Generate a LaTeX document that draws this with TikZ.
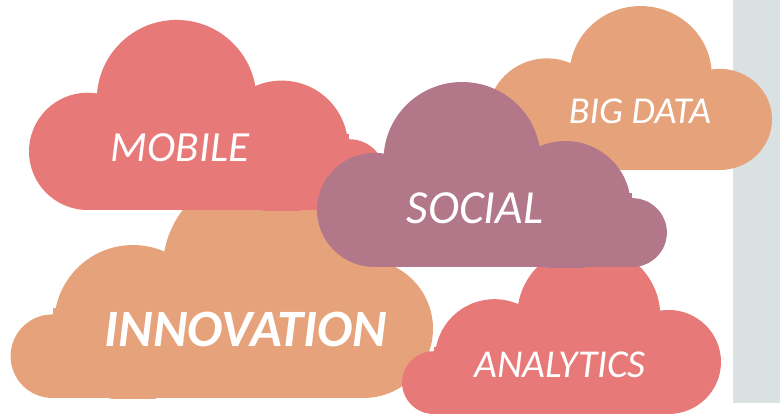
\documentclass[tikz,border=0pt]{standalone}
\usepackage{fontspec}
\setmainfont{Carlito}
\definecolor{cpink}{RGB}{231,122,120}
\definecolor{corange}{RGB}{230,163,123}
\definecolor{cmauve}{RGB}{178,120,137}
\definecolor{cstrip}{RGB}{217,225,227}
% canonical cloud: 350 x 188, origin at bottom-left, y up, small bump on the right
\newcommand{\cloudfill}[1]{%
  \begin{scope}
  \clip (-10,0) rectangle (400,200);
  \fill[#1] (58,58) circle (58);
  \fill[#1] (146,109) circle (79);
  \fill[#1] (250,62.4) circle (65.6);
  \fill[#1] (317,35) circle (35);
  \fill[#1] (58,0) rectangle (317,75);
  \end{scope}
}
\begin{document}
\begin{tikzpicture}[x=1pt,y=-1pt,
  lbl/.style={text=white, anchor=base, inner sep=0pt}]
\useasboundingbox (0,0) rectangle (780,413);
\fill[white] (0,0) rectangle (780,413);
\fill[cstrip] (733,0) rectangle (780,403);
% INNOVATION
\begin{scope}[xshift=433pt, yshift=-398pt, xscale=-1.2, yscale=-1.195]
  \cloudfill{corange}
\end{scope}
\node[lbl, font=\bfseries\itshape\fontsize{52.5}{52.5}\selectfont] (innovation) at (246,346) {INNOVATION};
% MOBILE
\begin{scope}[xshift=29pt, yshift=-210pt, xscale=1.011, yscale=-1.011]
  \cloudfill{cpink}
\end{scope}
\node[lbl, font=\itshape\fontsize{43}{43}\selectfont] (mobile) at (180,161) {MOBILE};
% BIG DATA
\begin{scope}[xshift=772pt, yshift=-170pt, xscale=-0.9, yscale=-0.872]
  \cloudfill{corange}
\end{scope}
\node[lbl, font=\itshape\fontsize{38}{38}\selectfont] (bigdata) at (640,123) {BIG DATA};
% ANALYTICS
\begin{scope}[xshift=721pt, yshift=-414pt, xscale=-0.906, yscale=-0.897]
  \cloudfill{cpink}
\end{scope}
\node[lbl, font=\itshape\fontsize{39.5}{39.5}\selectfont] (analytics) at (560,377) {ANALYTICS};
% SOCIAL
\begin{scope}[xshift=317pt, yshift=-267pt, xscale=0.994, yscale=-0.984]
  \cloudfill{cmauve}
\end{scope}
\node[lbl, font=\itshape\fontsize{47.5}{47.5}\selectfont] (social) at (475,223) {SOCIAL};
\end{tikzpicture}
\end{document}
